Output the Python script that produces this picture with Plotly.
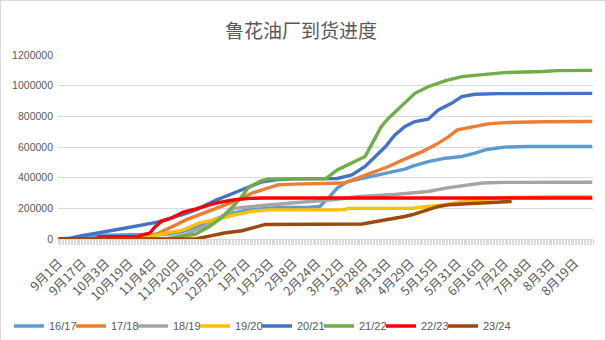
import plotly.graph_objects as go

# x-axis tick labels (every 16th day of the season starting 9月1日)
tick_labels = ["9月1日", "9月17日", "10月3日", "10月19日", "11月4日", "11月20日",
               "12月6日", "12月22日", "1月7日", "1月23日", "2月8日", "2月24日",
               "3月12日", "3月28日", "4月13日", "4月29日", "5月15日", "5月31日",
               "6月16日", "7月2日", "7月18日", "8月3日", "8月19日"]
tick_step_days = 16
season_days = 365

series_names = ["16/17", "17/18", "18/19", "19/20", "20/21", "21/22", "22/23", "23/24"]

# days since 9月1日, cumulative arrivals (tonnes)
d_1617 = [0, 8, 17, 30, 60, 75, 85, 96, 107, 119, 130, 142, 150, 171, 178, 184, 190, 197, 207, 218, 229, 236, 241, 252, 264, 275, 284, 291, 298, 304, 320, 364]
v_1617 = [0, 5000, 22000, 25000, 28000, 33000, 50000, 87000, 130000, 169000, 191000, 202000, 205000, 208000, 212000, 267000, 332000, 375000, 397000, 418000, 440000, 456000, 473000, 505000, 527000, 538000, 560000, 581000, 592000, 599000, 603000, 603000]

d_1718 = [0, 58, 62, 70, 80, 88, 96, 107, 120, 132, 143, 150, 161, 190, 195, 207, 216, 225, 236, 248, 257, 266, 272, 282, 293, 304, 330, 364]
v_1718 = [0, 0, 10000, 45000, 92000, 130000, 160000, 202000, 245000, 300000, 332000, 354000, 358000, 360000, 365000, 408000, 440000, 473000, 521000, 570000, 614000, 668000, 712000, 733000, 751000, 759000, 765000, 766000]

d_1819 = [0, 68, 75, 86, 96, 102, 113, 120, 132, 148, 165, 187, 205, 229, 252, 264, 275, 289, 304, 364]
v_1819 = [0, 0, 5000, 28000, 72000, 93000, 158000, 200000, 212000, 228000, 240000, 256000, 277000, 290000, 310000, 332000, 347000, 365000, 369000, 370000]

d_1920 = [0, 52, 61, 72, 85, 96, 107, 120, 132, 143, 195, 197, 240, 252, 264, 275, 289, 304, 330, 364]
v_1920 = [0, 0, 15000, 35000, 60000, 105000, 126000, 158000, 180000, 190000, 190000, 200000, 200000, 212000, 223000, 245000, 256000, 270000, 275000, 275000]

d_2021 = [0, 7, 15, 29, 43, 62, 68, 79, 85, 94, 107, 125, 138, 148, 161, 190, 200, 209, 216, 223, 229, 236, 243, 252, 259, 268, 275, 284, 300, 364]
v_2021 = [0, 3000, 20000, 41000, 67000, 100000, 111000, 145000, 160000, 192000, 252000, 321000, 371000, 386000, 392000, 395000, 418000, 473000, 538000, 603000, 675000, 733000, 766000, 781000, 842000, 885000, 929000, 944000, 948000, 950000]

d_2122 = [0, 76, 86, 93, 102, 111, 120, 125, 129, 138, 143, 182, 190, 202, 209, 214, 220, 225, 231, 236, 243, 252, 264, 275, 289, 304, 330, 340, 364]
v_2122 = [0, 0, 21000, 30000, 76000, 137000, 223000, 277000, 332000, 380000, 392000, 392000, 451000, 505000, 538000, 625000, 733000, 788000, 842000, 885000, 950000, 993000, 1033000, 1059000, 1074000, 1085000, 1092000, 1098000, 1100000]

d_2223 = [0, 26, 27, 54, 58, 62, 66, 70, 77, 85, 93, 107, 120, 130, 140, 364]
v_2223 = [0, 0, 13000, 17000, 28000, 39000, 82000, 115000, 137000, 176000, 195000, 234000, 256000, 265000, 267000, 267000]

d_2324 = [0, 93, 102, 113, 125, 136, 141, 207, 218, 227, 236, 241, 252, 259, 266, 279, 293, 309]
v_2324 = [0, 0, 17000, 39000, 54000, 82000, 95000, 98000, 115000, 130000, 147000, 158000, 191000, 212000, 223000, 230000, 238000, 245000]

series_days = [d_1617, d_1718, d_1819, d_1920, d_2021, d_2122, d_2223, d_2324]
series_vals = [v_1617, v_1718, v_1819, v_1920, v_2021, v_2122, v_2223, v_2324]
colors = ["#5B9BD5", "#ED7D31", "#A5A5A5", "#FFC000", "#4472C4", "#70AD47", "#FF0000", "#9E480E"]

fig = go.Figure()
for i, (name, xs, ys, c) in enumerate(zip(series_names, series_days, series_vals, colors)):
    fig.add_trace(go.Scatter(x=xs, y=ys, name=name, mode="lines",
                             line=dict(color=c, width=3.4),
                             legendwidth=30 if i == len(series_names) - 1 else None))

tick_vals = [i * tick_step_days for i in range(len(tick_labels))]

gray = "#595959"
fig.update_layout(
    width=605, height=340,
    margin=dict(l=58, r=12, t=55, b=101),
    paper_bgcolor="white", plot_bgcolor="white",
    title=dict(text="鲁花油厂到货进度", x=301 / 605, xref="container", xanchor="center",
               y=1 - 31 / 340, yref="container", yanchor="middle",
               font=dict(family="Noto Sans CJK SC", size=19, color=gray)),
    showlegend=True,
    legend=dict(orientation="h", x=9 / 605, xref="container", xanchor="left",
                y=1 - 326 / 340, yref="container", yanchor="middle",
                font=dict(family="Liberation Sans", size=11, color=gray),
                entrywidth=17, entrywidthmode="pixels", itemwidth=30,
                bgcolor="rgba(0,0,0,0)"),
    xaxis=dict(range=[-0.5, season_days - 0.5], tickmode="array",
               tickvals=tick_vals, ticktext=tick_labels, tickangle=-45,
               showgrid=False, zeroline=False, showline=True, linecolor="#D9D9D9",
               linewidth=1, ticks="", ticklabelstandoff=11,
               tickfont=dict(family="Noto Sans CJK SC", size=12.5, color=gray),
               minor=dict(dtick=1, tick0=-0.5, ticks="outside", ticklen=5,
                          tickcolor="#D9D9D9", tickwidth=1, showgrid=False),
               automargin=False, fixedrange=True),
    yaxis=dict(range=[0, 1200000], dtick=200000, tickformat="d",
               showgrid=True, gridcolor="#D9D9D9", gridwidth=1, zeroline=False,
               showline=False, ticks="", ticklabelstandoff=4,
               tickfont=dict(family="Liberation Sans", size=10.5, color=gray),
               automargin=False, fixedrange=True),
    shapes=[
        dict(type="line", xref="paper", yref="paper", x0=-58 / 535, x1=547 / 535,
             y0=1 + 54.5 / 184, y1=1 + 54.5 / 184, line=dict(color="#D9D9D9", width=1)),
        dict(type="line", xref="paper", yref="paper", x0=-57.5 / 535, x1=-57.5 / 535,
             y0=-101 / 184, y1=1 + 55 / 184, line=dict(color="#D9D9D9", width=1)),
    ],
)

fig.write_html("out.html")
